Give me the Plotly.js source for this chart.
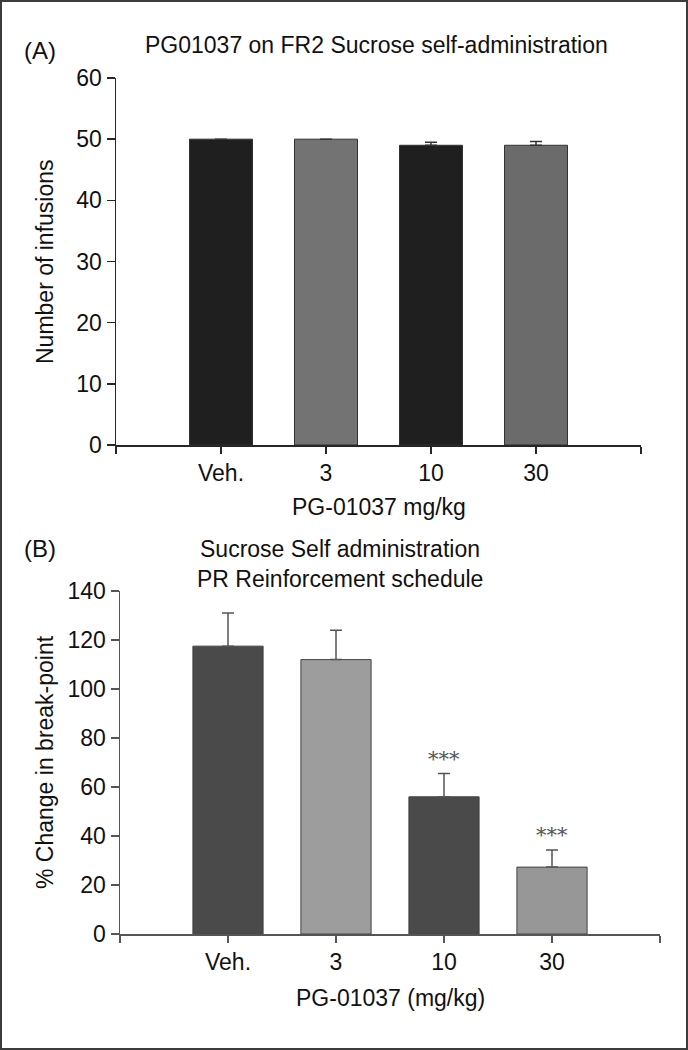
<!DOCTYPE html>
<html>
<head>
<meta charset="utf-8">
<script src="https://cdn.plot.ly/plotly-3.0.1.min.js"></script>
<style>
  html, body { margin: 0; padding: 0; background: #fff; }
  #wrap { position: relative; width: 688px; height: 1050px; }
  #chart { position: absolute; left: 0; top: 0; width: 688px; height: 1050px; }
  #frame { position: absolute; left: 0; top: 0; width: 688px; height: 1050px; box-sizing: border-box; border: 2px solid #3c3c3c; pointer-events: none; }
</style>
</head>
<body>
<div id="wrap"><div id="chart"></div><div id="frame"></div></div>
<script>
// ---- data ----
const categories = ['Veh.', '3', '10', '30'];
// Panel A: FR2 sucrose, number of infusions
const infusionsMean = [50, 50, 49, 49];
const infusionsErr  = [0, 0, 0.5, 0.6];
// Panel B: PR schedule, % change in break-point
const breakpointMean = [117.5, 112, 56, 27.3];
const breakpointErr  = [13.5, 12, 9.5, 7];
const significance   = ['', '', '***', '***'];

const colorsA = ['#1f1f1f', '#737373', '#1f1f1f', '#6b6b6b'];
const colorsB = ['#4a4a4a', '#9d9d9d', '#4a4a4a', '#979797'];

const xpos = categories.map((c, i) => i);
const tickvals = [-1].concat(xpos, [categories.length]);
const ticktext = [''].concat(categories, ['']);

const FONT = 'Liberation Sans, Arial, sans-serif';
const AXA = '#262626';
const AXB = '#555555';

function px(x) { return x / 688; }
function py(y) { return 1 - y / 1050; }

const traceA = {
  type: 'bar', x: xpos, y: infusionsMean, width: 0.6,
  marker: { color: colorsA, line: { color: '#333', width: 1 } },
  error_y: { type: 'data', symmetric: false, array: infusionsErr, arrayminus: infusionsErr.map(() => 0),
             color: '#333', thickness: 1.5, width: 6 },
  xaxis: 'x', yaxis: 'y', hoverinfo: 'skip'
};
const traceB = {
  type: 'bar', x: xpos, y: breakpointMean, width: 0.65,
  marker: { color: colorsB, line: { color: '#444', width: 1 } },
  error_y: { type: 'data', symmetric: false, array: breakpointErr, arrayminus: breakpointErr.map(() => 0),
             color: '#555', thickness: 1.5, width: 6 },
  xaxis: 'x2', yaxis: 'y2', hoverinfo: 'skip'
};

function xAxis(col) {
  return {
    type: 'linear', range: [-1, categories.length], tickmode: 'array', tickvals: tickvals, ticktext: ticktext,
    showline: true, linecolor: col, linewidth: 1.5, ticks: 'outside', ticklen: 7, tickwidth: 1.5, tickcolor: col,
    showgrid: false, zeroline: false, fixedrange: true,
    tickfont: { family: FONT, size: 23, color: '#111' }
  };
}
function yAxis(col) {
  return {
    showline: true, linecolor: col, linewidth: 1.5, ticks: 'outside', ticklen: 8, tickwidth: 1.5, tickcolor: col,
    showgrid: false, zeroline: false, fixedrange: true,
    tickfont: { family: FONT, size: 23, color: '#111' }
  };
}

const annotations = [
  { text: '(A)', x: px(40), y: py(50), size: 24 },
  { text: 'PG01037 on FR2 Sucrose self-administration', x: px(376), y: py(45), size: 23 },
  { text: 'PG-01037 mg/kg', x: px(379), y: py(507), size: 23 },
  { text: 'Number of infusions', x: px(45), y: py(262), size: 23, angle: -90 },
  { text: '(B)', x: px(40), y: py(548), size: 24 },
  { text: 'Sucrose Self administration', x: px(340), y: py(549), size: 23 },
  { text: 'PR Reinforcement schedule', x: px(340), y: py(579), size: 23 },
  { text: 'PG-01037 (mg/kg)', x: px(390), y: py(998), size: 23 },
  { text: '% Change in break-point', x: px(45), y: py(762), size: 23, angle: -90 }
].map(a => ({
  text: a.text, xref: 'paper', yref: 'paper', x: a.x, y: a.y, xanchor: 'center', yanchor: 'middle',
  showarrow: false, textangle: a.angle || 0, font: { family: FONT, size: a.size, color: '#111' }
}));

significance.forEach((s, i) => {
  if (!s) return;
  annotations.push({
    text: s, xref: 'x2', yref: 'y2', x: xpos[i], y: breakpointMean[i] + breakpointErr[i],
    yshift: 15, xanchor: 'center', yanchor: 'middle', showarrow: false,
    font: { family: 'DejaVu Serif, serif', size: 21, color: '#555' }
  });
});

const layout = {
  width: 688, height: 1050,
  margin: { l: 0, r: 0, t: 0, b: 0 },
  paper_bgcolor: '#fff', plot_bgcolor: 'rgba(0,0,0,0)',
  showlegend: false,
  xaxis: Object.assign(xAxis(AXA), { domain: [px(116), px(641)], anchor: 'y' }),
  yaxis: Object.assign(yAxis(AXA), { domain: [py(445), py(78)], range: [0, 60], tickvals: [0, 10, 20, 30, 40, 50, 60], anchor: 'x' }),
  xaxis2: Object.assign(xAxis(AXB), { domain: [px(120), px(660)], anchor: 'y2' }),
  yaxis2: Object.assign(yAxis(AXB), { domain: [py(934), py(591)], range: [0, 140], tickvals: [0, 20, 40, 60, 80, 100, 120, 140], anchor: 'x2' }),
  annotations: annotations
};

Plotly.newPlot('chart', [traceA, traceB], layout, { displayModeBar: false, staticPlot: true });
</script>
</body>
</html>
